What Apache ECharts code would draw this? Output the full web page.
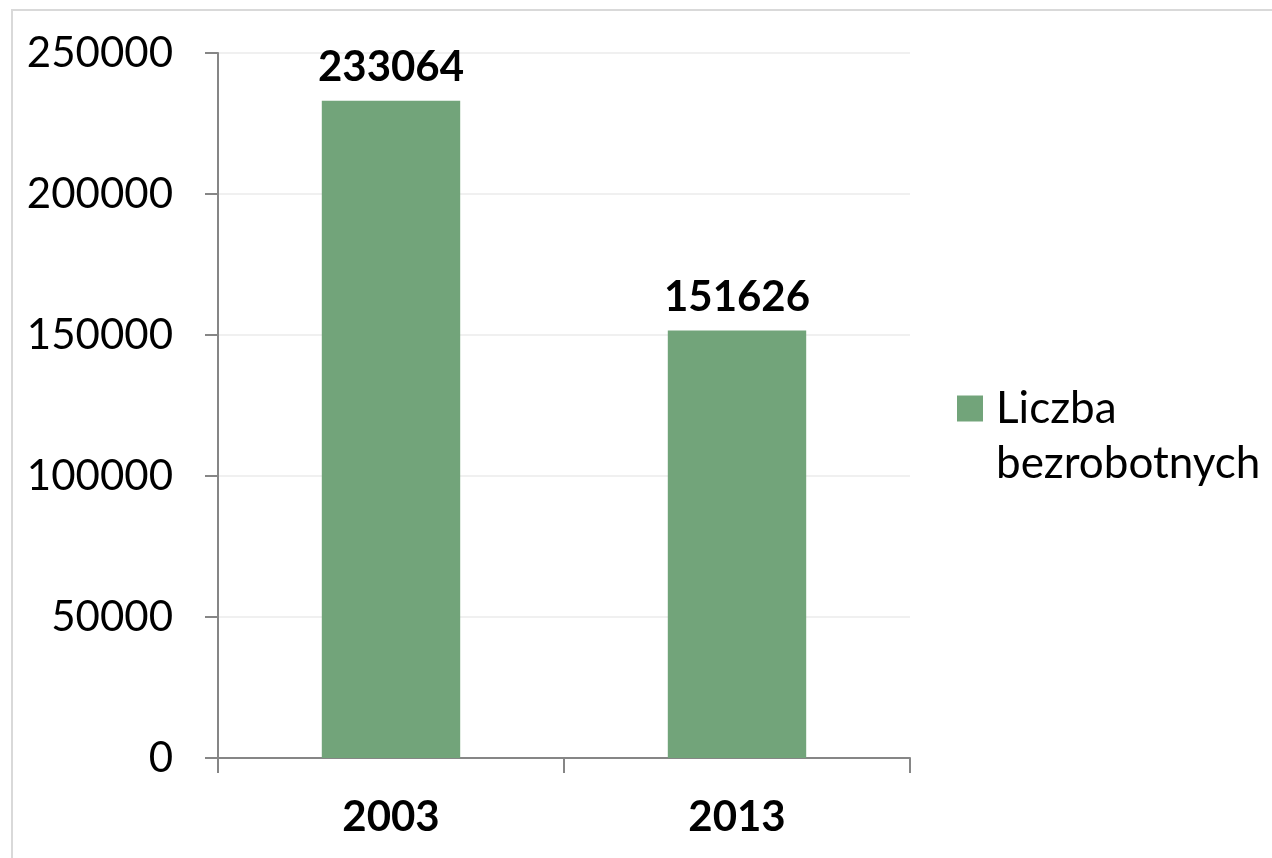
<!DOCTYPE html>
<html>
<head>
<meta charset="utf-8">
<script src="https://cdn.jsdelivr.net/npm/echarts@6/dist/echarts.min.js"></script>
<style>
html,body{margin:0;padding:0;background:#fff;}
#chart{width:1272px;height:858px;}
</style>
</head>
<body>
<div id="chart"></div>
<script>
const categories = ['2003', '2013'];
const seriesName = 'Liczba bezrobotnych';
const values = [233064, 151626];

const FONT = 'Lato';
const chart = echarts.init(document.getElementById('chart'));
chart.setOption({
  animation: false,
  backgroundColor: '#ffffff',
  graphic: [{
    type: 'rect',
    shape: {x: 12, y: 10, width: 1400, height: 1000},
    style: {fill: 'none', stroke: '#d9d9d9', lineWidth: 2},
    silent: true,
    z: -10
  }],
  grid: {left: 218, right: 362, top: 53, bottom: 100, containLabel: false},
  legend: {
    show: true,
    left: 957,
    top: 326,
    padding: 0,
    itemWidth: 26,
    itemHeight: 26,
    icon: 'rect',
    formatter: function (n) { return ' \n' + n.replace(' ', '\n'); },
    textStyle: {
      fontFamily: FONT, fontSize: 44, color: '#000', lineHeight: 55,
      padding: [0, 0, 0, 8]
    }
  },
  xAxis: {
    type: 'category',
    data: categories,
    axisLine: {lineStyle: {color: '#868686', width: 2}},
    axisTick: {show: true, length: 15, lineStyle: {color: '#868686', width: 2}},
    axisLabel: {fontFamily: FONT, fontSize: 42, fontWeight: 'bold', color: '#000', margin: 38}
  },
  yAxis: {
    type: 'value',
    min: 0,
    max: 250000,
    interval: 50000,
    axisLine: {show: true, lineStyle: {color: '#868686', width: 2}},
    axisTick: {show: true, length: 13, lineStyle: {color: '#868686', width: 2}},
    splitLine: {show: true, lineStyle: {color: '#f0f0f0', width: 2}},
    axisLabel: {
      fontFamily: FONT, fontSize: 42, color: '#000', margin: 45,
      formatter: function (v) { return String(v); }
    }
  },
  series: [{
    name: seriesName,
    type: 'bar',
    data: values,
    barWidth: '40%',
    itemStyle: {color: '#72a47a'},
    label: {
      show: true,
      position: 'top',
      distance: 12,
      fontFamily: FONT,
      fontSize: 42,
      fontWeight: 'bold',
      color: '#000'
    }
  }]
});
</script>
</body>
</html>
